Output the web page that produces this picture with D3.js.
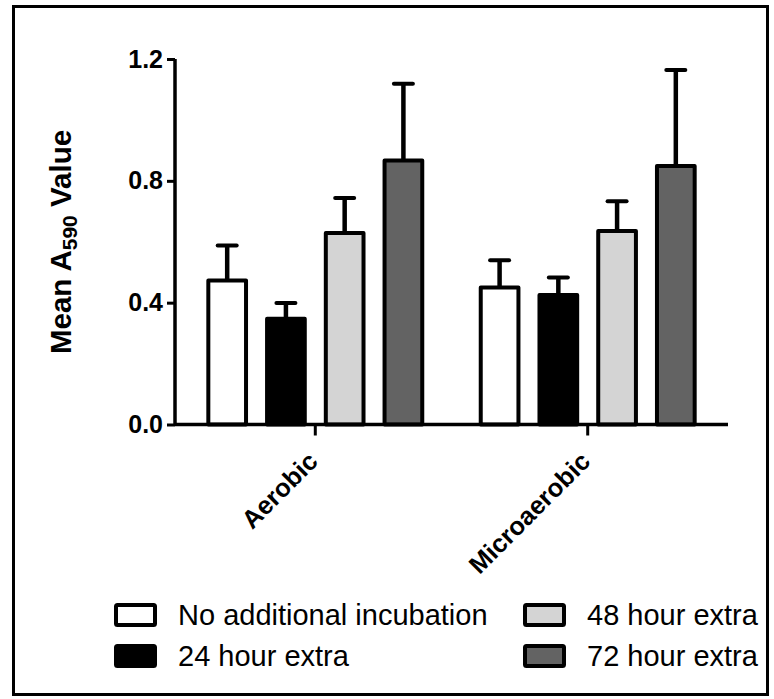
<!DOCTYPE html>
<html>
<head>
<meta charset="utf-8">
<script src="https://cdn.jsdelivr.net/npm/d3@7"></script>
<style>
  body { margin: 0; background: #fff; }
  svg { display: block; font-family: "Liberation Sans", Arial, sans-serif; }
</style>
</head>
<body>
<svg></svg>
<script>
// chart data
const categories = ["Aerobic", "Microaerobic"];
const seriesNames = ["No additional incubation", "24 hour extra", "48 hour extra", "72 hour extra"];
const seriesColors = ["#ffffff", "#000000", "#d4d4d4", "#636363"];

// mean values per series (Aerobic, Microaerobic)
const noExtra = [0.473, 0.450];
const extra24 = [0.347, 0.425];
const extra48 = [0.629, 0.635];
const extra72 = [0.867, 0.849];

// upper error (SD) per series
const errNoExtra = [0.115, 0.089];
const errExtra24 = [0.052, 0.058];
const errExtra48 = [0.115, 0.098];
const errExtra72 = [0.252, 0.315];

const yTicks = [0, 0.4, 0.8, 1.2];

const means = [noExtra, extra24, extra48, extra72];
const errs = [errNoExtra, errExtra24, errExtra48, errExtra72];

// set the size of the svg
const W = 774, H = 699;
const svg = d3.select('svg')
    .attr('width', W)
    .attr('height', H);

// outer frame
svg.append('rect')
    .attr('x', 13.5)
    .attr('y', 6.5)
    .attr('width', 754)
    .attr('height', 688)
    .attr('fill', 'none')
    .attr('stroke', '#000')
    .attr('stroke-width', 3);

// plot area
const plotLeft = 175, plotRight = 728, plotTop = 59, plotBottom = 424.5;

const yScale = d3.scaleLinear()
    .domain([0, 1.2])
    .range([plotBottom, plotTop]);

const x0 = d3.scaleBand()
    .domain(categories)
    .range([plotLeft, plotRight])
    .paddingInner(0.2)
    .paddingOuter(0.115);

const x1 = d3.scaleBand()
    .domain(seriesNames)
    .range([0, x0.bandwidth()])
    .paddingInner(0.29)
    .paddingOuter(0);

// y axis
const yAxis = svg.append('g')
    .attr('transform', `translate(${plotLeft}, 0)`)
    .call(d3.axisLeft(yScale)
        .tickValues(yTicks)
        .tickFormat(d3.format('.1f'))
        .tickSize(8)
        .tickPadding(4));
yAxis.select('.domain')
    .attr('d', `M0,${plotTop}V${plotBottom}`)
    .attr('stroke-width', 3.5);
yAxis.selectAll('.tick line').attr('stroke-width', 3);
yAxis.selectAll('.tick text')
    .attr('font-size', 25)
    .attr('font-weight', 'bold')
    .attr('fill', '#000')
    .attr('font-family', '"Liberation Sans", Arial, sans-serif');

// bars
const groups = svg.selectAll('g.group')
    .data(categories)
    .enter()
    .append('g')
    .attr('class', 'group')
    .attr('transform', (c) => `translate(${x0(c)}, 0)`);

const barData = (c, ci) => seriesNames.map((s, si) => ({
    series: s, si: si, value: means[si][ci], err: errs[si][ci]
}));

const sw = 4;

// error bars first so bars cover the stem base
groups.each(function (c, ci) {
    const g = d3.select(this);
    const data = barData(c, ci);
    g.selectAll('line.stem')
        .data(data)
        .enter()
        .append('line')
        .attr('x1', (d) => x1(d.series) + x1.bandwidth() / 2)
        .attr('x2', (d) => x1(d.series) + x1.bandwidth() / 2)
        .attr('y1', (d) => yScale(d.value))
        .attr('y2', (d) => yScale(d.value + d.err))
        .attr('stroke', '#000')
        .attr('stroke-width', 4.5);
    g.selectAll('line.cap')
        .data(data)
        .enter()
        .append('line')
        .attr('x1', (d) => x1(d.series) + x1.bandwidth() / 2 - 9.5)
        .attr('x2', (d) => x1(d.series) + x1.bandwidth() / 2 + 9.5)
        .attr('y1', (d) => yScale(d.value + d.err))
        .attr('y2', (d) => yScale(d.value + d.err))
        .attr('stroke', '#000')
        .attr('stroke-width', 4)
        .attr('stroke-linecap', 'round');
    g.selectAll('rect')
        .data(data)
        .enter()
        .append('rect')
        .attr('x', (d) => x1(d.series) + sw / 2)
        .attr('y', (d) => yScale(d.value))
        .attr('width', x1.bandwidth() - sw)
        .attr('height', (d) => plotBottom - yScale(d.value))
        .attr('fill', (d) => seriesColors[d.si])
        .attr('stroke', '#000')
        .attr('stroke-width', sw)
        .attr('stroke-linejoin', 'round');
});

// x axis
const xAxis = svg.append('g')
    .attr('transform', `translate(0, ${plotBottom})`)
    .call(d3.axisBottom(x0).tickSize(11).tickFormat(''));
xAxis.select('.domain')
    .attr('d', `M${plotLeft},0H${plotRight}`)
    .attr('stroke-width', 3.5);
xAxis.selectAll('.tick line').attr('stroke-width', 3);

// rotated category labels
svg.selectAll('text.cat')
    .data(categories)
    .enter()
    .append('text')
    .attr('class', 'cat')
    .attr('transform', (c) => `translate(${x0(c) + x0.bandwidth() / 2 + 4}, 463) rotate(-45)`)
    .attr('text-anchor', 'end')
    .attr('font-size', 25.5)
    .attr('font-weight', 'bold')
    .text((c) => c);

// y label
const yLabel = svg.append('text')
    .attr('transform', `translate(71, 242) rotate(-90)`)
    .attr('text-anchor', 'middle')
    .attr('font-size', 29.5)
    .attr('font-weight', 'bold');
yLabel.append('tspan').text('Mean A');
yLabel.append('tspan')
    .attr('font-size', 21)
    .attr('dy', 6)
    .text('590');
yLabel.append('tspan')
    .attr('dy', -6)
    .text(' Value');

// legend
const legendPos = [
    { x: 116, y: 605 },
    { x: 116, y: 646 },
    { x: 525, y: 605 },
    { x: 525, y: 646 }
];
const legend = svg.selectAll('g.legend')
    .data(seriesNames)
    .enter()
    .append('g')
    .attr('class', 'legend')
    .attr('transform', (s, i) => `translate(${legendPos[i].x}, ${legendPos[i].y})`);
legend.append('rect')
    .attr('width', 39)
    .attr('height', 20)
    .attr('fill', (s, i) => seriesColors[i])
    .attr('stroke', '#000')
    .attr('stroke-width', 4)
    .attr('rx', 1.5);
legend.append('text')
    .attr('x', 62)
    .attr('y', 20)
    .attr('font-size', 29)
    .text((s) => s);
</script>
</body>
</html>
